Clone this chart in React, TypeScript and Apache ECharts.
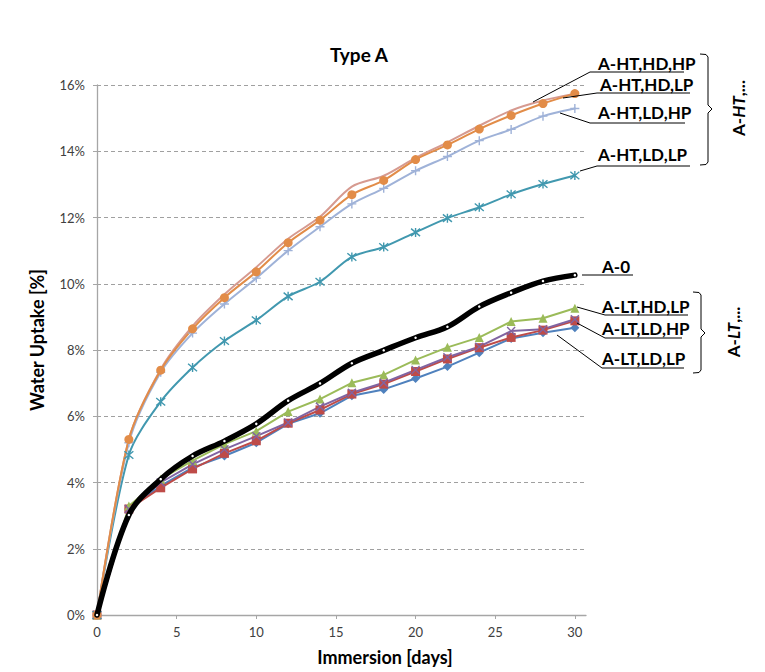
import React, { useEffect, useRef } from "react";
import * as echarts from "echarts";

const days = [0, 2, 4, 6, 8, 10, 12, 14, 16, 18, 20, 22, 24, 26, 28, 30];
const xTickValues = [0, 5, 10, 15, 20, 25, 30];

const htHdHp = [0, 5.3, 7.42, 8.72, 9.68, 10.5, 11.36, 12.02, 12.93, 13.26, 13.8, 14.27, 14.77, 15.23, 15.53, 15.74];
const htHdLp = [0, 5.3, 7.39, 8.64, 9.58, 10.36, 11.24, 11.92, 12.69, 13.12, 13.75, 14.19, 14.67, 15.08, 15.44, 15.74];
const htLdHp = [0, 5.2, 7.33, 8.51, 9.39, 10.17, 11.0, 11.72, 12.41, 12.88, 13.41, 13.84, 14.32, 14.66, 15.06, 15.29];
const htLdLp = [0, 4.83, 6.44, 7.47, 8.27, 8.9, 9.62, 10.06, 10.81, 11.11, 11.55, 11.98, 12.31, 12.7, 13.01, 13.27];
const a0 = [0, 3.02, 4.1, 4.8, 5.25, 5.77, 6.47, 6.99, 7.6, 7.99, 8.37, 8.7, 9.31, 9.73, 10.08, 10.26];
const ltHdLp = [0, 3.29, 4.1, 4.66, 5.16, 5.55, 6.14, 6.52, 7.01, 7.25, 7.7, 8.08, 8.38, 8.86, 8.96, 9.26];
const ltHdHp = [0, 3.2, 4.0, 4.55, 5.0, 5.4, 5.81, 6.29, 6.71, 7.01, 7.4, 7.78, 8.1, 8.57, 8.63, 8.93];
const ltLdHp = [0, 3.2, 3.84, 4.41, 4.88, 5.26, 5.79, 6.19, 6.67, 6.97, 7.35, 7.73, 8.07, 8.38, 8.6, 8.88];
const ltLdLp = [0, 3.2, 3.9, 4.45, 4.8, 5.2, 5.77, 6.09, 6.62, 6.81, 7.14, 7.5, 7.92, 8.35, 8.52, 8.67];

const FONT = "Lato, 'Open Sans', sans-serif";

const pair = (vals: number[]) => days.map((d, i) => [d, vals[i]]);

const PLUS = "path://M5,0L5,10M0,5L10,5";
const CROSS = "path://M0,0L10,10M10,0L0,10";
const STAR = "path://M0,0L10,10M10,0L0,10M5,-1L5,11";

function lineSeries(name: string, vals: number[], color: string, opts: any = {}) {
  return {
    type: "line",
    name,
    data: pair(vals),
    smooth: opts.smooth ?? false,
    symbol: opts.symbol ?? "none",
    symbolSize: opts.symbolSize ?? 8,
    showSymbol: opts.symbol ? true : false,
    lineStyle: { color, width: opts.width ?? 2, cap: "round", join: "round" },
    itemStyle: opts.stroke
      ? { color: "transparent", borderColor: color, borderWidth: 1.4 }
      : { color: opts.markerColor ?? color, borderWidth: 0 },
    z: opts.z ?? 2,
    clip: false,
  };
}

function label(text: string, x: number, y: number) {
  return {
    type: "text",
    x,
    y,
    style: {
      text,
      fill: "#000",
      fontFamily: FONT,
      fontWeight: "bold",
      fontSize: 17,
      textAlign: "left",
      textVerticalAlign: "middle",
    },
    z: 10,
  };
}

function leader(points: number[][]) {
  return {
    type: "polyline",
    shape: { points },
    style: { stroke: "#000", lineWidth: 1, fill: null },
    z: 10,
  };
}

function brace(x0: number, x1: number, tip: number, yTop: number, yMid: number, yBot: number) {
  return {
    type: "polyline",
    shape: {
      points: [
        [x0, yTop],
        [x1 - 2, yTop + 0.5],
        [x1, yTop + 3],
        [x1, yMid - 4],
        [tip, yMid],
        [x1, yMid + 4],
        [x1, yBot - 3],
        [x1 - 2, yBot - 0.5],
        [x0, yBot],
      ],
    },
    style: { stroke: "#000", lineWidth: 1, fill: null },
    z: 10,
  };
}

function groupLabel(mid: string, x: number, y: number) {
  return {
    type: "text",
    x,
    y,
    rotation: Math.PI / 2,
    style: {
      text: "{a|A-}{b|" + mid + "}{a|,...}",
      rich: {
        a: { fontFamily: FONT, fontWeight: "bold", fontSize: 17, fill: "#000" },
        b: { fontFamily: FONT, fontWeight: "bold", fontStyle: "italic", fontSize: 17, fill: "#000" },
      },
      textAlign: "center",
      textVerticalAlign: "middle",
    },
    z: 10,
  };
}

export default function App() {
  const ref = useRef<HTMLDivElement>(null);

  useEffect(() => {
    if (!ref.current) return;
    const chart = echarts.init(ref.current, null, { renderer: "svg" });
    const option: any = {
      animation: false,
      backgroundColor: "#fff",
      grid: { left: 97, right: 179, top: 85, bottom: 57, containLabel: false },
      xAxis: {
        type: "value",
        min: 0,
        max: 30.7,
        axisLine: { show: true, lineStyle: { color: "#a6a6a6", width: 1.3 } },
        axisTick: { show: true, inside: false, length: 4, customValues: xTickValues, lineStyle: { color: "#a6a6a6" } },
        axisLabel: {
          customValues: xTickValues,
          color: "#404040",
          fontFamily: FONT,
          fontSize: 13,
          margin: 10,
          formatter: (v: number) => (Number.isInteger(v) && v % 5 === 0 ? String(v) : ""),
        },
        splitLine: { show: false },
      },
      yAxis: {
        type: "value",
        min: 0,
        max: 16,
        interval: 2,
        axisLine: { show: true, lineStyle: { color: "#a6a6a6", width: 1.3 } },
        axisTick: { show: true, inside: false, length: 4, lineStyle: { color: "#a6a6a6" } },
        axisLabel: {
          color: "#404040",
          fontFamily: FONT,
          fontSize: 13,
          margin: 12,
          formatter: "{value}%",
        },
        splitLine: { show: true, lineStyle: { color: "#a0a0a0", width: 1, type: [4, 3] } },
      },
      series: [
        lineSeries("A-LT,LD,LP", ltLdLp, "#4f81bd", { symbol: "diamond", symbolSize: 9 }),
        lineSeries("A-LT,LD,HP", ltLdHp, "#be4b48", { symbol: "rect", symbolSize: 9 }),
        lineSeries("A-LT,HD,LP", ltHdLp, "#9bbb59", { symbol: "triangle", symbolSize: 9 }),
        lineSeries("A-LT,HD,HP", ltHdHp, "#8064a2", { symbol: CROSS, symbolSize: 8, stroke: true }),
        lineSeries("A-HT,LD,LP", htLdLp, "#4198af", { symbol: STAR, symbolSize: 9, stroke: true, smooth: 0.3 }),
        lineSeries("A-HT,HD,HP", htHdHp, "#d69a90", { smooth: 0.3 }),
        lineSeries("A-HT,LD,HP", htLdHp, "#9fb2d8", { symbol: PLUS, symbolSize: 9, stroke: true, smooth: 0.3 }),
        lineSeries("A-HT,HD,LP", htHdLp, "#e28c48", { symbol: "circle", symbolSize: 9, smooth: 0.3 }),
        lineSeries("A-0", a0, "#000000", { symbol: "circle", symbolSize: 2.5, markerColor: "#ffffff", width: 5.5, smooth: 0.35, z: 5 }),
      ],
      graphic: [
        {
          type: "text",
          x: 359,
          y: 54,
          style: {
            text: "Type A",
            fill: "#000",
            fontFamily: FONT,
            fontWeight: "bold",
            fontSize: 19,
            textAlign: "center",
            textVerticalAlign: "middle",
          },
        },
        {
          type: "text",
          x: 385,
          y: 657,
          style: {
            text: "Immersion [days]",
            fill: "#000",
            fontFamily: FONT,
            fontWeight: "bold",
            fontSize: 18,
            textAlign: "center",
            textVerticalAlign: "middle",
          },
        },
        {
          type: "text",
          x: 37,
          y: 340,
          rotation: Math.PI / 2,
          style: {
            text: "Water Uptake [%]",
            fill: "#000",
            fontFamily: FONT,
            fontWeight: "bold",
            fontSize: 18,
            textAlign: "center",
            textVerticalAlign: "middle",
          },
        },
        label("A-HT,HD,HP", 598, 63),
        leader([[533, 102], [590, 72], [684, 72]]),
        label("A-HT,HD,LP", 600, 84),
        leader([[563, 98], [597, 93], [690, 93]]),
        label("A-HT,LD,HP", 598, 112),
        leader([[560, 113], [590, 123], [685, 123]]),
        label("A-HT,LD,LP", 598, 154),
        leader([[580, 171], [597, 166], [690, 166]]),
        brace(700, 708, 712, 54, 109, 165),
        groupLabel("HT", 738, 108),
        label("A-0", 602, 266),
        leader([[582, 275], [633, 275]]),
        label("A-LT,HD,LP", 602, 306),
        leader([[577, 307], [605, 315], [688, 315]]),
        label("A-LT,LD,HP", 602, 328),
        leader([[577, 323], [605, 338], [682, 338]]),
        label("A-LT,LD,LP", 602, 358),
        leader([[557, 335], [602, 368], [684, 368]]),
        brace(693, 701, 705, 292, 333, 373),
        groupLabel("LT", 733, 332),
      ],
    };
    chart.setOption(option);
    return () => chart.dispose();
  }, []);

  return (
    <div
      ref={ref}
      style={{ position: "fixed", left: 0, top: 0, width: 765, height: 672, background: "#fff" }}
    />
  );
}
